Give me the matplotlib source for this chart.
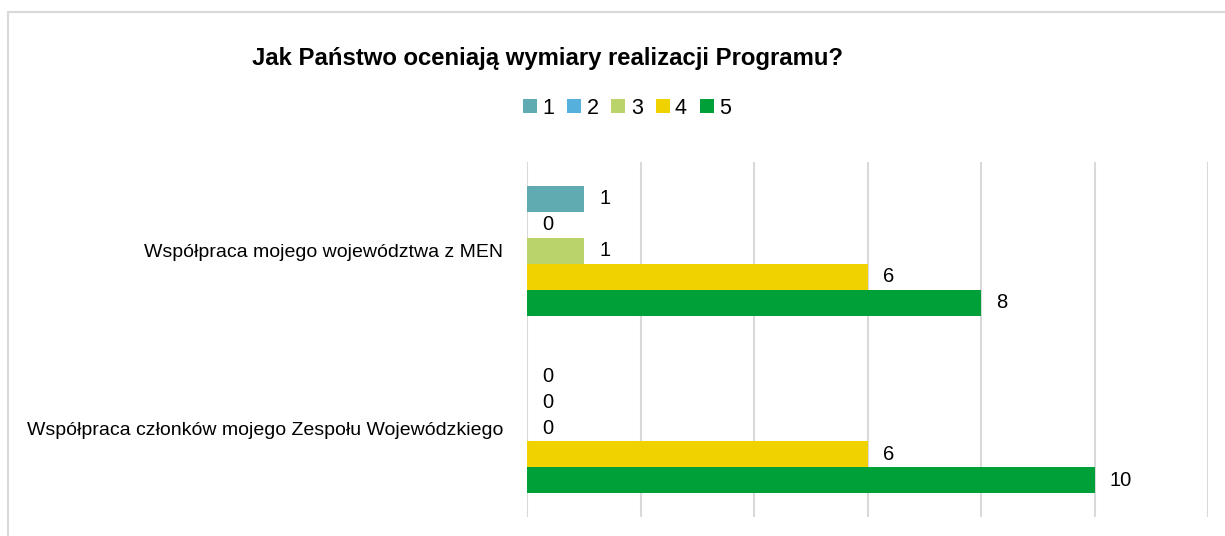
import numpy as np
import matplotlib.pyplot as plt
from matplotlib.patches import Rectangle

plt.rcParams['font.family'] = ['Liberation Sans', 'DejaVu Sans']

# Survey answers: number of votes for each grade 1-5
categories = ["Współpraca mojego województwa z MEN",
              "Współpraca członków mojego Zespołu Wojewódzkiego"]
series_names = ["1", "2", "3", "4", "5"]
votes = {
    "1": [1, 0],
    "2": [0, 0],
    "3": [1, 0],
    "4": [6, 6],
    "5": [8, 10],
}
colors = ["#5fabb1", "#56b0dc", "#bad36a", "#f0d200", "#00a038"]

fig = plt.figure(figsize=(12.25, 5.36), dpi=100)
ax = fig.add_axes([527 / 1225, 1 - 517 / 536, (1208 - 527) / 1225, (517 - 162) / 536])

# outer frame (only top and left edges are in view)
fig.add_artist(Rectangle((8 / 1225, -0.1), 1.2, 1 - 12 / 536 + 0.1, transform=fig.transFigure,
                         fill=False, edgecolor="#d9d9d9", linewidth=1.5))

bar_h = 26 / 177
y = np.arange(len(categories))
for i, name in enumerate(series_names):
    ys = y - 2 * bar_h + i * bar_h
    vals = votes[name]
    ax.barh(ys, vals, height=bar_h, color=colors[i], label=name, zorder=2)
    for yy, v in zip(ys, vals):
        ax.annotate(str(v), (v, yy), xytext=(11, 0), textcoords="offset points",
                    va="center", ha="left", fontsize=14.5, color="#000000")

ax.set_xlim(0, 12)
ax.set_ylim(1.5, -0.5)
ax.set_xticks(np.arange(0, 13, 2))
ax.set_xticklabels([])
ax.tick_params(axis="x", length=0)
ax.tick_params(axis="y", length=0, pad=17, labelsize=14)
ax.set_yticks(y)
ax.set_yticklabels(categories)
ax.grid(axis="x", color="#d9d9d9", linewidth=1.5, zorder=0)
for s in ax.spines.values():
    s.set_visible(False)

fig.text(548 / 1225, 1 - 58 / 536, "Jak Państwo oceniają wymiary realizacji Programu?",
         ha="center", va="center", fontsize=17.2, fontweight="bold")

fig.legend(loc="center", bbox_to_anchor=(627 / 1225, 1 - 108 / 536), ncol=5, frameon=False,
           fontsize=15.5, handlelength=0.65, handleheight=0.65, handletextpad=0.25,
           columnspacing=0.6, borderpad=0)

fig.savefig("out.png", dpi=100)
